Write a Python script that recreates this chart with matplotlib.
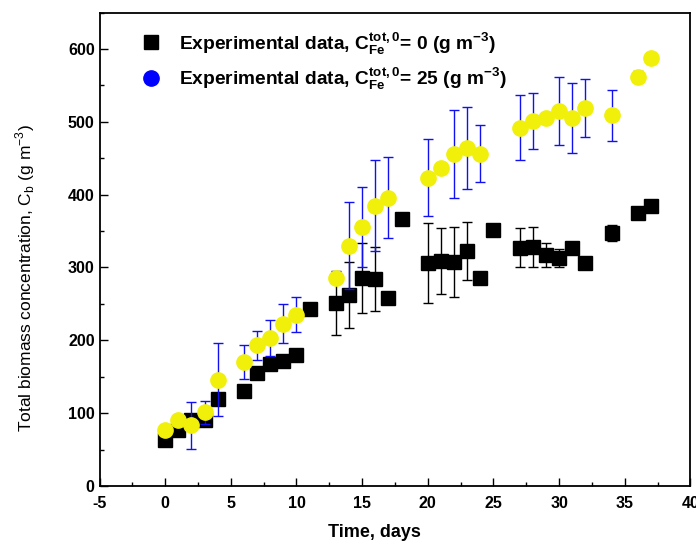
import matplotlib
matplotlib.use('Agg')
import matplotlib.pyplot as plt
from matplotlib.lines import Line2D
from matplotlib.ticker import MultipleLocator

plt.rcParams['font.family'] = ['Liberation Sans', 'DejaVu Sans']
plt.rcParams['mathtext.fontset'] = 'custom'
plt.rcParams['mathtext.rm'] = 'Liberation Sans'
plt.rcParams['mathtext.bf'] = 'Liberation Sans:bold'
plt.rcParams['axes.unicode_minus'] = False

# C_Fe = 0 series (black squares)
t0 = [0, 1, 2, 3, 4, 6, 7, 8, 9, 10, 11, 13, 14, 15, 16, 17, 18, 20, 21, 22,
      23, 24, 25, 27, 28, 29, 30, 31, 32, 34, 36, 37]
cb0 = [63, 77, 90, 90, 119, 131, 155, 167, 171, 180, 243, 251, 262, 286, 284, 258,
       367, 306, 309, 307, 323, 286, 351, 327, 328, 317, 313, 327, 306, 347, 375, 384]
err0 = [0, 6, 5, 0, 0, 0, 0, 0, 0, 0, 0, 44, 45, 48, 44, 0,
        0, 55, 45, 48, 40, 0, 0, 27, 28, 17, 13, 0, 0, 11, 0, 0]

# C_Fe = 25 series (yellow circles)
t25 = [0, 1, 2, 3, 4, 6, 7, 8, 9, 10, 13, 14, 15, 16, 17, 20, 21, 22, 23, 24,
       27, 28, 29, 30, 31, 32, 34, 36, 37]
cb25 = [77, 90, 83, 101, 146, 170, 193, 203, 223, 235, 286, 330, 356, 385, 396,
        423, 436, 456, 464, 456, 492, 501, 505, 515, 505, 519, 509, 562, 588]
err25 = [0, 0, 32, 16, 50, 23, 20, 25, 27, 24, 0, 60, 55, 62, 56,
         53, 0, 60, 56, 39, 45, 38, 0, 47, 48, 40, 35, 8, 0]

YELLOW = '#F0F00A'

fig = plt.figure(figsize=(6.96, 5.46), dpi=100)
ax = fig.add_axes([0.143, 0.110, 0.849, 0.867])

ax.errorbar(t0, cb0, yerr=err0, fmt='s', color='black', ms=10, mec='black',
            ecolor='black', elinewidth=1, capsize=3.5, capthick=1, zorder=2)
ax.errorbar(t25, cb25, yerr=err25, fmt='o', color=YELLOW, ms=11, mec=YELLOW,
            ecolor='#1010F0', elinewidth=1, capsize=3.5, capthick=1, zorder=3)

ax.set_xlim(-5, 40)
ax.set_ylim(0, 650)
ax.xaxis.set_major_locator(MultipleLocator(5))
ax.xaxis.set_minor_locator(MultipleLocator(2.5))
ax.yaxis.set_major_locator(MultipleLocator(100))
ax.yaxis.set_minor_locator(MultipleLocator(50))
ax.tick_params(which='both', direction='in', top=False, right=False)
ax.tick_params(which='major', length=6, width=1)
ax.tick_params(which='minor', length=3, width=1)
ax.tick_params(axis='x', pad=7)
for lab in ax.get_xticklabels() + ax.get_yticklabels():
    lab.set_fontweight('bold')
    lab.set_fontsize(11.5)
for sp in ax.spines.values():
    sp.set_linewidth(1.3)

ax.set_xlabel('Time, days', fontsize=13, fontweight='bold')
ax.xaxis.set_label_coords(0.466, -0.08)
ax.set_ylabel(r'Total biomass concentration, C$_\mathregular{b}$ (g m$^\mathregular{-3}$)',
              fontsize=12.5)
ax.yaxis.set_label_coords(-0.106, 0.44)

handles = [
    Line2D([], [], ls='none', marker='s', color='black', ms=10),
    Line2D([], [], ls='none', marker='o', color='#0000FF', ms=11),
]
labels = [
    r'Experimental data, C$_\mathbf{Fe}^\mathbf{tot,0}$= 0 (g m$^\mathbf{-3}$)',
    r'Experimental data, C$_\mathbf{Fe}^\mathbf{tot,0}$= 25 (g m$^\mathbf{-3}$)',
]
ax.legend(handles, labels, loc='upper left', bbox_to_anchor=(0.025, 1.0),
          frameon=False, prop={'size': 13.8, 'weight': 'bold'},
          handletextpad=0.5, labelspacing=0.45)

fig.savefig('out.png', dpi=100)
